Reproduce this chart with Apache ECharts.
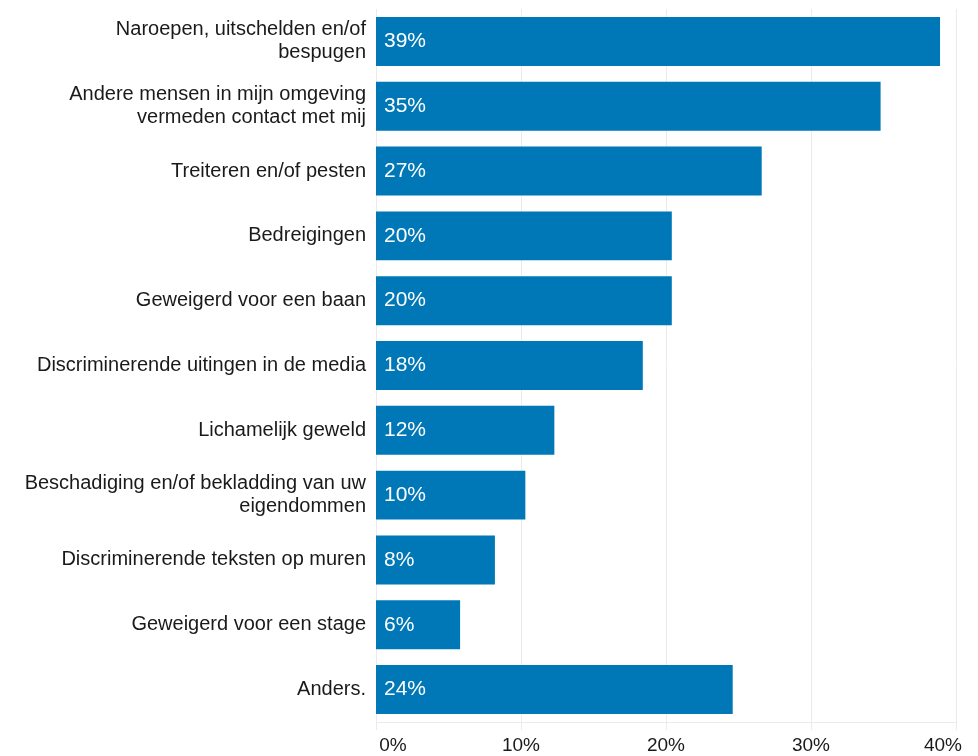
<!DOCTYPE html>
<html>
<head>
<meta charset="utf-8">
<script src="https://cdn.jsdelivr.net/npm/echarts@6/dist/echarts.min.js"></script>
<style>
html,body{margin:0;padding:0;background:#fff;}
#chart{width:978px;height:756px;}
</style>
</head>
<body>
<div id="chart"></div>
<script>
const categories = [
  'Naroepen, uitschelden en/of\nbespugen',
  'Andere mensen in mijn omgeving\nvermeden contact met mij',
  'Treiteren en/of pesten',
  'Bedreigingen',
  'Geweigerd voor een baan',
  'Discriminerende uitingen in de media',
  'Lichamelijk geweld',
  'Beschadiging en/of bekladding van uw\neigendommen',
  'Discriminerende teksten op muren',
  'Geweigerd voor een stage',
  'Anders.'
];
const values = [38.9, 34.8, 26.6, 20.4, 20.4, 18.4, 12.3, 10.3, 8.2, 5.8, 24.6];
const valueLabels = ['39%', '35%', '27%', '20%', '20%', '18%', '12%', '10%', '8%', '6%', '24%'];
const xTicks = [0, 10, 20, 30, 40];

const chart = echarts.init(document.getElementById('chart'));
const font = 'Liberation Sans, Arial, Helvetica, sans-serif';
const axFont = { color: '#1a1a1a', fontFamily: font, fontSize: 19 };
chart.setOption({
  animation: false,
  backgroundColor: '#ffffff',
  grid: { left: 376, right: 22, top: 9, bottom: 34, containLabel: false },
  xAxis: {
    type: 'value',
    min: xTicks[0],
    max: xTicks[xTicks.length - 1],
    interval: 10,
    axisLine: { show: true, lineStyle: { color: '#ebebeb', width: 1 } },
    axisTick: { show: true, length: 8, lineStyle: { color: '#ebebeb', width: 1 } },
    splitLine: { show: true, lineStyle: { color: '#ebebeb', width: 1 } },
    axisLabel: {
      formatter: v => v === xTicks[0] ? '{l|' + v + '%}' : (v === xTicks[xTicks.length - 1] ? '{r|' + v + '%}' : v + '%'),
      color: '#1a1a1a',
      fontFamily: font,
      fontSize: 19,
      margin: 14,
      rich: {
        l: Object.assign({ padding: [0, 0, 0, 34] }, axFont),
        r: Object.assign({ padding: [0, 26, 0, 0] }, axFont)
      }
    }
  },
  yAxis: {
    type: 'category',
    data: categories,
    inverse: true,
    axisLine: { show: false },
    axisTick: { show: false },
    splitLine: { show: false },
    axisLabel: {
      color: '#1a1a1a',
      fontFamily: font,
      fontSize: 20,
      lineHeight: 23,
      margin: 10,
      align: 'right'
    }
  },
  series: [{
    type: 'bar',
    data: values,
    barWidth: '75.5%',
    itemStyle: { color: '#0077b6' },
    label: {
      show: true,
      position: 'insideLeft',
      distance: 8,
      color: '#ffffff',
      fontFamily: font,
      fontSize: 21,
      formatter: p => valueLabels[p.dataIndex]
    }
  }]
});
</script>
</body>
</html>
